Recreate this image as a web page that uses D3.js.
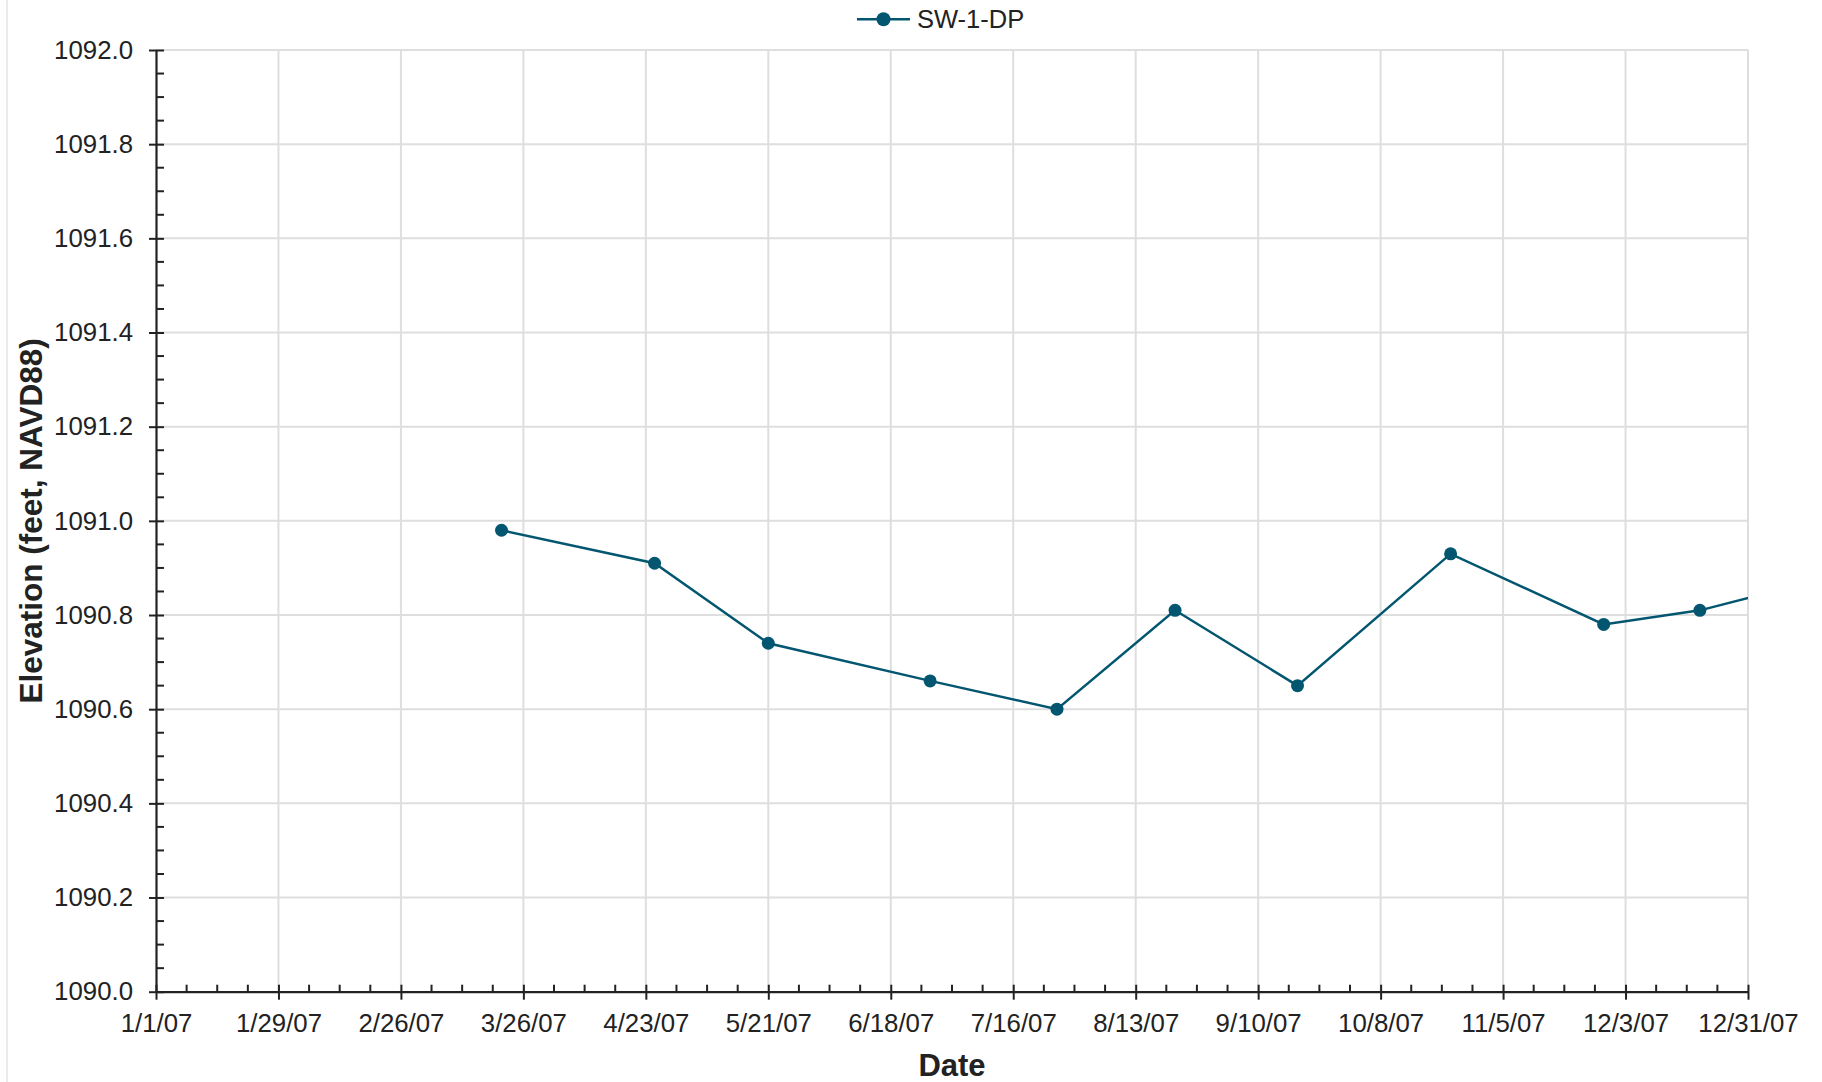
<!DOCTYPE html>
<html>
<head>
<meta charset="utf-8">
<script src="https://cdn.jsdelivr.net/npm/d3@7"></script>
<style>
  html, body { margin: 0; padding: 0; background: #fff; }
  svg { display: block; }
  text { font-family: "Liberation Sans", Arial, sans-serif; fill: #222; }
</style>
</head>
<body>
<svg id="chart" width="1822" height="1082"></svg>
<script>
// ---- Data ----
const seriesName = "SW-1-DP";
const dates = ["2007-03-21", "2007-04-25", "2007-05-21", "2007-06-27", "2007-07-26",
               "2007-08-22", "2007-09-19", "2007-10-24", "2007-11-28", "2007-12-20", "2008-01-10"];
const elevations = [1090.98, 1090.91, 1090.74, 1090.66, 1090.60,
                    1090.81, 1090.65, 1090.93, 1090.78, 1090.81, 1090.86];
const xTickLabels = ["1/1/07", "1/29/07", "2/26/07", "3/26/07", "4/23/07", "5/21/07", "6/18/07",
                     "7/16/07", "8/13/07", "9/10/07", "10/8/07", "11/5/07", "12/3/07", "12/31/07"];
const yTickLabels = ["1090.0", "1090.2", "1090.4", "1090.6", "1090.8", "1091.0",
                     "1091.2", "1091.4", "1091.6", "1091.8", "1092.0"];
const xTitle = "Date";
const yTitle = "Elevation (feet, NAVD88)";

// ---- Setup ----
const parseTick = d3.utcParse("%m/%d/%y");
const parseDate = d3.utcParse("%Y-%m-%d");
const xMajor = xTickLabels.map(parseTick);
const yMajor = yTickLabels.map(Number);
const data = dates.map((d, i) => ({ date: parseDate(d), value: elevations[i] }));

const pL = 156, pR = 1748, pT = 50, pB = 991.7;
const color = "#03566f";
const gridColor = "#dedede";
const axisColor = "#222";

const x = d3.scaleUtc().domain([xMajor[0], xMajor[xMajor.length - 1]]).range([pL, pR]);
const y = d3.scaleLinear().domain([yMajor[0], yMajor[yMajor.length - 1]]).range([pB, pT]);

const svg = d3.select("#chart");

// outer left border
svg.append("line").attr("x1", 7).attr("x2", 7).attr("y1", 0).attr("y2", 1082)
  .attr("stroke", "#e4e4e4").attr("stroke-width", 1.5);

// gridlines
const grid = svg.append("g");
grid.selectAll("line.v").data(xMajor.slice(1)).join("line").attr("class", "v")
  .attr("x1", d => x(d)).attr("x2", d => x(d)).attr("y1", pT).attr("y2", pB)
  .attr("stroke", gridColor).attr("stroke-width", 2);
grid.selectAll("line.h").data(yMajor.slice(1)).join("line").attr("class", "h")
  .attr("x1", pL).attr("x2", pR).attr("y1", d => y(d)).attr("y2", d => y(d))
  .attr("stroke", gridColor).attr("stroke-width", 2);

// minor ticks (weekly, Mondays; major ticks every 4 weeks)
const xMinor = d3.utcMonday.range(xMajor[0], xMajor[xMajor.length - 1])
  .filter(d => !xMajor.some(m => +m === +d));
const yMinor = d3.range(0, 41).map(i => yMajor[0] + i * 0.05)
  .filter(v => Math.abs(((v - yMajor[0]) / 0.2) - Math.round((v - yMajor[0]) / 0.2)) > 1e-6);

// x axis
const xAxis = svg.append("g").attr("transform", `translate(0,${pB})`)
  .call(d3.axisBottom(x).tickValues(xMajor).tickFormat((d, i) => xTickLabels[i])
    .tickSizeInner(8).tickSizeOuter(0).tickPadding(14));
xAxis.select(".domain").attr("stroke", axisColor).attr("stroke-width", 2.2);
xAxis.selectAll(".tick line").attr("y1", -7).attr("y2", 8).attr("stroke", axisColor).attr("stroke-width", 2);
xAxis.selectAll(".tick text").attr("font-size", "25.8px").attr("fill", "#222")
  .style("font-family", '"Liberation Sans", Arial, sans-serif');
xAxis.selectAll("line.minor").data(xMinor).join("line").attr("class", "minor")
  .attr("x1", d => x(d)).attr("x2", d => x(d)).attr("y1", -7).attr("y2", 0)
  .attr("stroke", axisColor).attr("stroke-width", 2);

// y axis
const yAxis = svg.append("g").attr("transform", `translate(${pL},0)`)
  .call(d3.axisLeft(y).tickValues(yMajor).tickFormat((d, i) => yTickLabels[i])
    .tickSizeInner(7).tickSizeOuter(0).tickPadding(16));
yAxis.select(".domain").attr("stroke", axisColor).attr("stroke-width", 2.2);
yAxis.selectAll(".tick line").attr("x1", -7).attr("x2", 8).attr("stroke", axisColor).attr("stroke-width", 2);
yAxis.selectAll(".tick text").attr("font-size", "25.8px").attr("fill", "#222")
  .style("font-family", '"Liberation Sans", Arial, sans-serif');
yAxis.selectAll("line.minor").data(yMinor).join("line").attr("class", "minor")
  .attr("x1", 0).attr("x2", 8).attr("y1", d => y(d)).attr("y2", d => y(d))
  .attr("stroke", axisColor).attr("stroke-width", 2);

// clip
svg.append("clipPath").attr("id", "plotClip").append("rect")
  .attr("x", pL).attr("y", pT - 10).attr("width", pR - pL).attr("height", pB - pT + 20);

// series
const line = d3.line().x(d => x(d.date)).y(d => y(d.value));
const plot = svg.append("g").attr("clip-path", "url(#plotClip)");
plot.append("path").datum(data).attr("d", line)
  .attr("fill", "none").attr("stroke", color).attr("stroke-width", 2.4);
plot.selectAll("circle").data(data).join("circle")
  .attr("cx", d => x(d.date)).attr("cy", d => y(d.value)).attr("r", 6.5).attr("fill", color);

// axis titles
svg.append("text").attr("x", (pL + pR) / 2).attr("y", 1075.5).attr("text-anchor", "middle")
  .attr("font-size", "31px").attr("font-weight", "bold").text(xTitle);
svg.append("text").attr("transform", `translate(42,${(pT + pB) / 2}) rotate(-90)`)
  .attr("text-anchor", "middle").attr("font-size", "31.5px").attr("font-weight", "bold").text(yTitle);

// legend
const lg = svg.append("g");
lg.append("line").attr("x1", 857).attr("x2", 910).attr("y1", 19.3).attr("y2", 19.3)
  .attr("stroke", color).attr("stroke-width", 2.4);
lg.append("circle").attr("cx", 883.5).attr("cy", 19.3).attr("r", 7).attr("fill", color);
lg.append("text").attr("x", 917).attr("y", 28).attr("font-size", "25.5px").text(seriesName);
</script>
</body>
</html>
